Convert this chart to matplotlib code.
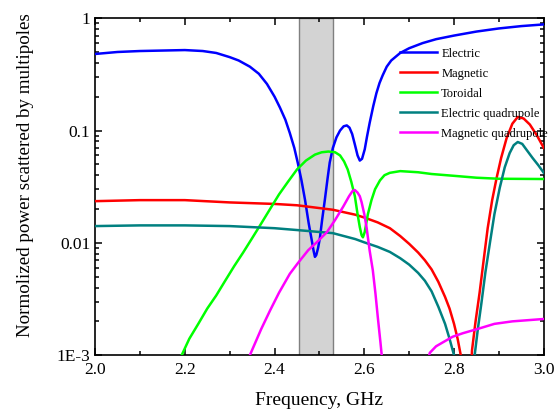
import numpy as np
import matplotlib
matplotlib.use('Agg')
import matplotlib.pyplot as plt
from matplotlib.ticker import FixedLocator, FixedFormatter, LogLocator, MultipleLocator, NullFormatter

plt.rcParams['font.family'] = ['Liberation Serif', 'DejaVu Serif']

# multipole contributions, read at each frequency (GHz)
f_el = [2.00, 2.05, 2.10, 2.15, 2.20, 2.24, 2.27, 2.30, 2.32, 2.345, 2.365, 2.383,
        2.40, 2.412, 2.424, 2.434, 2.444, 2.452, 2.46, 2.468, 2.476, 2.483, 2.487,
        2.490, 2.493, 2.497, 2.501, 2.506, 2.512, 2.518, 2.523, 2.530, 2.538, 2.546,
        2.554, 2.561, 2.567, 2.573, 2.579, 2.585, 2.590, 2.595, 2.601, 2.606, 2.612,
        2.620, 2.627, 2.634, 2.641, 2.65, 2.66, 2.68, 2.70, 2.73, 2.76, 2.80, 2.85,
        2.90, 2.95, 3.00]
p_el = [0.48, 0.50, 0.51, 0.515, 0.52, 0.51, 0.49, 0.45, 0.42, 0.37, 0.32, 0.26,
        0.20, 0.16, 0.125, 0.095, 0.07, 0.051, 0.036, 0.024, 0.015, 0.0105, 0.0085,
        0.0075, 0.0078, 0.0090, 0.0110, 0.016, 0.024, 0.037, 0.052, 0.070, 0.087, 0.100,
        0.109, 0.111, 0.106, 0.093, 0.075, 0.060, 0.054, 0.056, 0.068, 0.088, 0.117,
        0.165, 0.215, 0.265, 0.31, 0.37, 0.42, 0.49, 0.54, 0.60, 0.65, 0.70, 0.76,
        0.81, 0.85, 0.88]

f_mag = [2.00, 2.10, 2.20, 2.30, 2.40, 2.45, 2.53, 2.58, 2.60, 2.63, 2.657, 2.68,
         2.70, 2.72, 2.735, 2.75, 2.765, 2.78, 2.79, 2.80, 2.808, 2.815, 2.822, 2.83,
         2.836, 2.84, 2.848, 2.857, 2.866, 2.875, 2.885, 2.895, 2.905, 2.917, 2.93,
         2.942, 2.955, 2.969, 2.985, 3.00]
p_mag = [0.0235, 0.024, 0.024, 0.0229, 0.0222, 0.0216, 0.0197, 0.0178, 0.0168, 0.0152,
         0.0135, 0.0115, 0.0098, 0.0082, 0.0070, 0.0058, 0.0045, 0.0033, 0.0026, 0.0019,
         0.0014, 0.0010, 0.0003, 0.0001, 0.0004, 0.0011, 0.0020, 0.0036, 0.0070, 0.0135,
         0.024, 0.038, 0.057, 0.085, 0.115, 0.132, 0.128, 0.113, 0.090, 0.070]

f_tor = [2.17, 2.193, 2.21, 2.23, 2.25, 2.27, 2.29, 2.31, 2.33, 2.35, 2.37, 2.39,
         2.41, 2.43, 2.45, 2.47, 2.49, 2.505, 2.52, 2.535, 2.546, 2.555, 2.563, 2.571,
         2.579, 2.585, 2.59, 2.594, 2.597, 2.601, 2.608, 2.616, 2.624, 2.635, 2.645,
         2.657, 2.68, 2.72, 2.75, 2.80, 2.85, 2.90, 3.00]
p_tor = [0.0007, 0.001, 0.0014, 0.0019, 0.0026, 0.0034, 0.0046, 0.0062, 0.0082, 0.011,
         0.0148, 0.020, 0.027, 0.035, 0.045, 0.054, 0.061, 0.064, 0.065, 0.064, 0.060,
         0.053, 0.045, 0.035, 0.026, 0.018, 0.0138, 0.0117, 0.0112, 0.0125, 0.018, 0.024,
         0.030, 0.036, 0.040, 0.042, 0.0435, 0.0425, 0.041, 0.0395, 0.038, 0.0372, 0.037]

f_eq = [2.00, 2.10, 2.20, 2.30, 2.40, 2.45, 2.53, 2.58, 2.60, 2.63, 2.657, 2.68,
        2.70, 2.72, 2.735, 2.75, 2.765, 2.78, 2.79, 2.80, 2.82, 2.846, 2.853, 2.861,
        2.87, 2.88, 2.89, 2.902, 2.913, 2.924, 2.933, 2.942, 2.952, 2.962, 2.975,
        2.988, 3.00]
p_eq = [0.0141, 0.0143, 0.0143, 0.0141, 0.0135, 0.0130, 0.0122, 0.0108, 0.0101, 0.0092,
        0.0083, 0.0073, 0.0064, 0.0054, 0.0046, 0.0037, 0.0027, 0.0019, 0.0014, 0.0010,
        0.0001, 0.0010, 0.0017, 0.0029, 0.0055, 0.010, 0.018, 0.031, 0.047, 0.063,
        0.074, 0.079, 0.076, 0.067, 0.057, 0.049, 0.042]

f_mq = [2.33, 2.345, 2.37, 2.39, 2.41, 2.434, 2.452, 2.475, 2.495, 2.517, 2.535,
        2.553, 2.566, 2.574, 2.579, 2.585, 2.59, 2.594, 2.60, 2.605, 2.612, 2.619,
        2.625, 2.63, 2.636, 2.64, 2.65, 2.69, 2.735, 2.746, 2.76, 2.775, 2.797, 2.82,
        2.85, 2.89, 2.93, 3.00]
p_mq = [0.0007, 0.001, 0.0017, 0.0025, 0.0036, 0.0053, 0.0066, 0.0086, 0.0102, 0.0125,
        0.016, 0.021, 0.026, 0.029, 0.0295, 0.028, 0.026, 0.023, 0.018, 0.0138, 0.0085,
        0.0057, 0.0035, 0.0022, 0.0013, 0.0009, 0.0005, np.nan, 0.0007, 0.00105, 0.0012,
        0.0013, 0.00146, 0.00157, 0.0017, 0.0019, 0.0020, 0.0021]

band = (2.454, 2.53)

fig = plt.figure(figsize=(5.56, 4.13), dpi=100)
ax = fig.add_axes([0.171, 0.140, 0.807, 0.816])

ax.axvspan(band[0], band[1], facecolor='#d3d3d3', edgecolor='#808080', lw=1.0, zorder=1)

lw = 1.8
ax.plot(f_el, p_el, color='#0000ff', lw=lw, label='Electric', zorder=3)
ax.plot(f_mag, p_mag, color='#ff0000', lw=lw, label='Magnetic', zorder=3)
ax.plot(f_tor, p_tor, color='#00ff00', lw=lw, label='Toroidal', zorder=3)
ax.plot(f_eq, p_eq, color='#008080', lw=lw, label='Electric quadrupole', zorder=3)
ax.plot(f_mq, p_mq, color='#ff00ff', lw=lw, label='Magnetic quadrupole', zorder=3)

ax.set_yscale('log')
ax.set_xlim(2.0, 3.0)
ax.set_ylim(1e-3, 1)

ax.xaxis.set_major_locator(MultipleLocator(0.2))
ax.xaxis.set_minor_locator(MultipleLocator(0.1))
ax.xaxis.set_major_formatter(matplotlib.ticker.FormatStrFormatter('%.1f'))
ax.yaxis.set_major_locator(FixedLocator([1e-3, 1e-2, 1e-1, 1]))
ax.yaxis.set_major_formatter(FixedFormatter(['1E-3', '0.01', '0.1', '1']))
ax.yaxis.set_minor_locator(LogLocator(base=10, subs=np.arange(2, 10)))
ax.yaxis.set_minor_formatter(NullFormatter())

ax.tick_params(which='both', direction='in', top=True, right=True, labelsize=12.5, width=1.1)
ax.tick_params(which='major', length=5)
ax.tick_params(which='minor', length=3)
ax.tick_params(axis='x', pad=5)
for s in ax.spines.values():
    s.set_linewidth(1.2)

ax.set_xlabel('Frequency, GHz', fontsize=14, labelpad=10)
ax.set_ylabel('Normolized power scattered by multipoles', fontsize=13.7)
ax.yaxis.set_label_coords(-0.137, 0.534)

ax.legend(loc='upper left', bbox_to_anchor=(0.679, 0.912), frameon=False, fontsize=9,
          handlelength=3.0, handletextpad=0.32, labelspacing=0.64,
          borderpad=0, borderaxespad=0)

fig.savefig('out.png', dpi=100)
